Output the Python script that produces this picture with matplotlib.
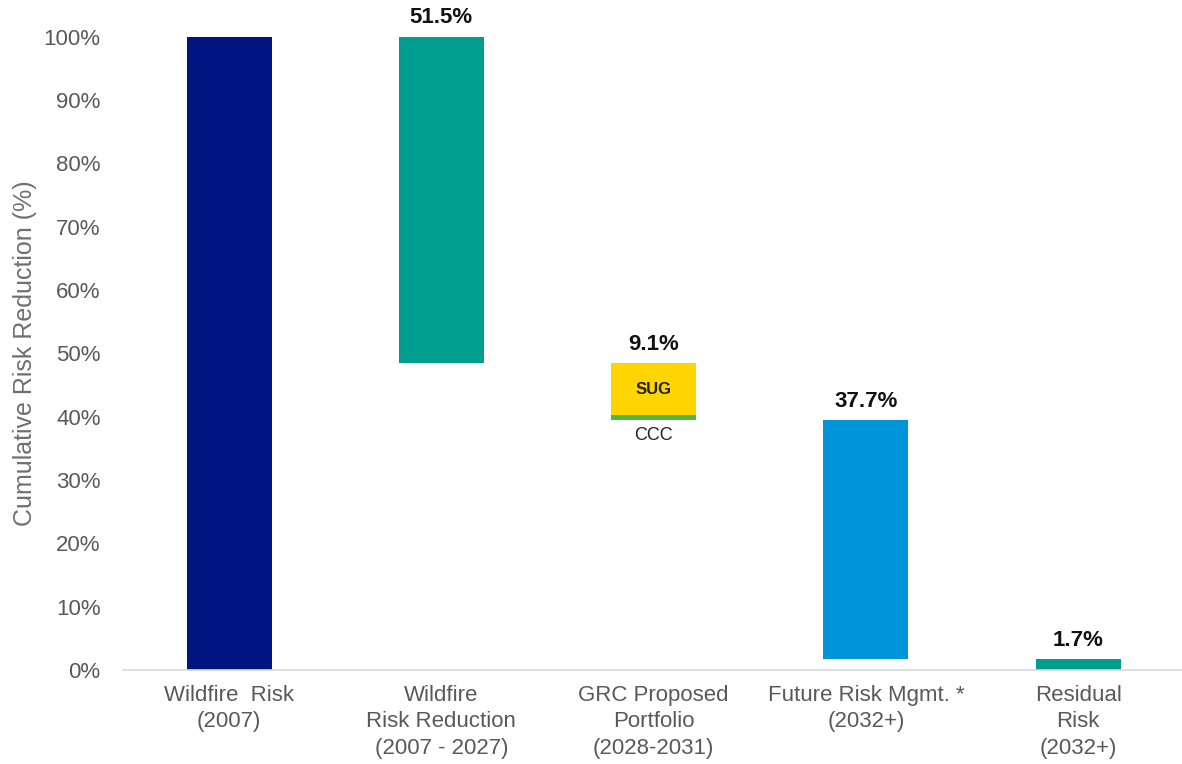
import matplotlib.pyplot as plt

plt.rcParams['font.family'] = ['Liberation Sans', 'DejaVu Sans']

categories = ['Wildfire  Risk\n(2007)', 'Wildfire\nRisk Reduction\n(2007 - 2027)',
              'GRC Proposed\nPortfolio\n(2028-2031)', 'Future Risk Mgmt. *\n(2032+)',
              'Residual\nRisk\n(2032+)']
start_risk = 100.0
reduction = 51.5
grc_total = 9.1
grc_ccc = 0.8
grc_sug = grc_total - grc_ccc
future_mgmt = 37.7
residual = 1.7
value_labels = ['', '51.5%', '9.1%', '37.7%', '1.7%']

navy = '#00157F'
teal = '#009E8F'
yellow = '#FFD500'
green = '#4DB848'
blue = '#0095D8'

fig = plt.figure(figsize=(11.82, 7.64), dpi=100)
ax = fig.add_axes([0.104, 0.123, 0.898, 0.829])

w = 0.4
x = range(len(categories))

# waterfall: each step hangs from where the previous one ended
after_reduction = start_risk - reduction
after_grc = after_reduction - grc_total
ax.bar(0, start_risk, width=w, color=navy)
ax.bar(1, reduction, bottom=after_reduction, width=w, color=teal)
ax.bar(2, grc_ccc, bottom=after_grc, width=w, color=green)
ax.bar(2, grc_sug, bottom=after_grc + grc_ccc, width=w, color=yellow)
ax.bar(3, future_mgmt, bottom=after_grc - future_mgmt, width=w, color=blue)
ax.bar(4, residual, width=w, color=teal)

tops = [start_risk, start_risk, after_reduction, after_grc, residual]
for i, (t, lab) in enumerate(zip(tops, value_labels)):
    if lab:
        ax.annotate(lab, (i, t), xytext=(0, 6), textcoords='offset points',
                    ha='center', va='bottom', fontsize=16, fontweight='bold',
                    color='#111111')

ax.text(2, after_grc + grc_ccc + grc_sug / 2, 'SUG', ha='center', va='center',
        fontsize=12, fontweight='bold', color='#222222')
ax.annotate('CCC', (2, after_grc), xytext=(0, -5), textcoords='offset points',
            ha='center', va='top', fontsize=13, color='#222222')

ax.set_xlim(-0.5, 4.5)
ax.set_ylim(0, 100)
ax.set_yticks(range(0, 101, 10))
ax.set_yticklabels([f'{v}%' for v in range(0, 101, 10)])
ax.set_xticks(list(x))
ax.set_xticklabels(categories, linespacing=1.32)
ax.tick_params(axis='y', length=0, pad=16, labelsize=16, labelcolor='#595959')
ax.tick_params(axis='x', length=0, pad=11, labelsize=16, labelcolor='#595959')
ax.set_ylabel('Cumulative Risk Reduction (%)', fontsize=18, color='#6F6F6F',
              labelpad=5)

for s in ['top', 'right', 'left']:
    ax.spines[s].set_visible(False)
ax.spines['bottom'].set_color('#D9D9D9')
ax.spines['bottom'].set_linewidth(1.2)

fig.savefig('out.png', dpi=100)
